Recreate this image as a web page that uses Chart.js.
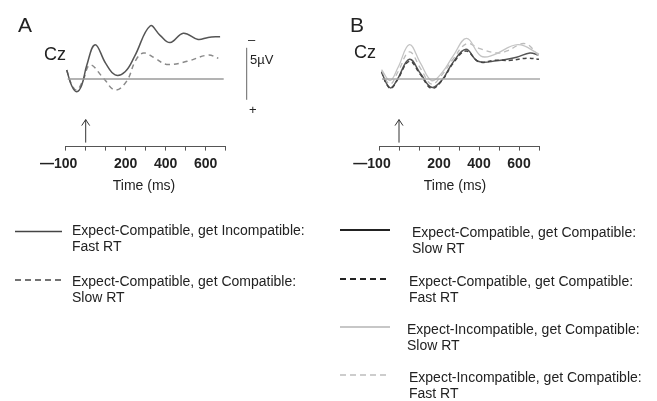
<!DOCTYPE html>
<html>
<head>
<meta charset="utf-8">
<script src="https://cdn.jsdelivr.net/npm/chart.js@4.4.0/dist/chart.umd.min.js"></script>
<style>
body{margin:0;background:#fff;width:657px;height:401px;position:relative;overflow:hidden;font-family:"Liberation Sans",Arial,sans-serif;color:#222}
.t{position:absolute;white-space:nowrap}
.lg{position:absolute;white-space:nowrap;font-size:14px;line-height:16px}
canvas{position:absolute;top:0}
svg{position:absolute;left:0;top:0}
</style>
</head>
<body>
<canvas id="ca" width="330" height="200" style="left:0;width:330px;height:200px"></canvas>
<canvas id="cb" width="327" height="200" style="left:330px;width:327px;height:200px"></canvas>

<div class="t" style="left:18px;top:14px;font-size:21px;line-height:21px">A</div>
<div class="t" style="left:350px;top:14px;font-size:21px;line-height:21px">B</div>
<div class="t" style="left:44px;top:44.5px;font-size:18px;line-height:18px">Cz</div>
<div class="t" style="left:354px;top:43px;font-size:18px;line-height:18px">Cz</div>
<div class="t" style="left:250px;top:53px;font-size:13px;line-height:13px">5µV</div>
<div class="t" style="left:248px;top:33px;font-size:13px;line-height:13px">–</div>
<div class="t" style="left:249px;top:103px;font-size:13px;line-height:13px">+</div>
<div class="t" style="left:104px;top:178px;width:80px;text-align:center;font-size:14px;line-height:14px">Time (ms)</div>
<div class="t" style="left:415px;top:178px;width:80px;text-align:center;font-size:14px;line-height:14px">Time (ms)</div>

<svg width="657" height="401">
  <line x1="15" y1="231.5" x2="62" y2="231.5" stroke="#444" stroke-width="1.5"/>
  <line x1="15" y1="280" x2="62" y2="280" stroke="#444" stroke-width="1.5" stroke-dasharray="6 4"/>
  <line x1="340" y1="230" x2="390" y2="230" stroke="#222" stroke-width="2"/>
  <line x1="340" y1="279" x2="390" y2="279" stroke="#222" stroke-width="2" stroke-dasharray="6 4"/>
  <line x1="340" y1="327" x2="390" y2="327" stroke="#b4b4b4" stroke-width="1.5"/>
  <line x1="340" y1="375" x2="390" y2="375" stroke="#bdbdbd" stroke-width="1.5" stroke-dasharray="6 4"/>
</svg>

<div class="lg" style="left:72px;top:222px">Expect-Compatible, get Incompatible:<br>Fast RT</div>
<div class="lg" style="left:72px;top:273px">Expect-Compatible, get Compatible:<br>Slow RT</div>
<div class="lg" style="left:412px;top:224px">Expect-Compatible, get Compatible:<br>Slow RT</div>
<div class="lg" style="left:409px;top:273px">Expect-Compatible, get Compatible:<br>Fast RT</div>
<div class="lg" style="left:407px;top:321px">Expect-Incompatible, get Compatible:<br>Slow RT</div>
<div class="lg" style="left:409px;top:369px">Expect-Incompatible, get Compatible:<br>Fast RT</div>

<script>
Chart.defaults.font.family = '"Liberation Sans", Arial, sans-serif';

// tick labels shown on the time axis
const tickLabels = {'-100': '\u2014100\u2003', '200': '200', '400': '400', '600': '600'};

// zero line
const baseT = [-90, 690];
const baseV = [0, 0];

// Panel A (µV, negative up)
const aFastT = [-95, -70, -45, -20, 5, 47, 100, 147, 197, 245, 322, 372, 422, 488, 562, 612, 672];
const aFastV = [-0.87, 0.65, 1.22, 0.6, -1.3, -3.3, -1.5, -0.4, -0.7, -2.2, -5.1, -4.2, -3.5, -4.4, -3.8, -4.0, -4.07];
const aSlowT = [-95, -70, -45, -15, 22, 88, 147, 205, 250, 290, 347, 405, 507, 612, 663];
const aSlowV = [-0.87, 0.55, 1.06, 0.2, -1.35, -0.1, 1.06, 0.2, -1.8, -2.5, -2.0, -1.4, -1.7, -2.3, -2.0];

// Panel B
const bCCslowT = [-87, -62, -40, -10, 52, 108, 163, 215, 270, 335, 395, 488, 588, 655, 697];
const bCCslowV = [-0.7, 0.45, 0.85, 0.1, -1.9, -0.5, 0.8, 0.1, -1.6, -2.85, -1.7, -1.75, -2.1, -2.5, -2.3];
const bCCfastT = [-87, -62, -40, -10, 52, 108, 163, 215, 270, 335, 400, 480, 560, 640, 700];
const bCCfastV = [-0.7, 0.5, 0.9, 0.15, -1.7, -0.4, 0.9, 0.15, -1.5, -2.7, -1.65, -1.8, -1.8, -2.0, -1.9];
const bICslowT = [-87, -45, -5, 52, 108, 163, 215, 270, 338, 410, 470, 595, 700];
const bICslowV = [-0.9, 0.15, -1.1, -3.3, -1.5, 0.15, -0.6, -2.2, -3.9, -2.2, -2.3, -3.3, -2.4];
const bICfastT = [-87, -45, -5, 52, 108, 163, 215, 270, 338, 400, 488, 540, 630, 700];
const bICfastV = [-0.8, 0.5, -0.7, -2.6, -1.0, 0.5, -0.4, -1.9, -3.4, -2.95, -2.5, -2.7, -3.4, -2.2];

function pts(t, v) { return t.map((x, i) => ({x: x, y: v[i]})); }

function trace(t, v, color, width, dash) {
  return {
    data: pts(t, v), borderColor: color, borderWidth: width, borderDash: dash || [],
    pointRadius: 0, fill: false, tension: 0.4, clip: false
  };
}

const extras = {
  id: 'extras',
  afterDraw(chart, args, opts) {
    const {ctx, chartArea, scales: {x, y}} = chart;
    const ax = x.getPixelForValue(0);
    const b = chartArea.bottom;
    ctx.save();
    ctx.strokeStyle = '#333';
    ctx.lineWidth = 1;
    ctx.beginPath();
    ctx.moveTo(ax, b - 4); ctx.lineTo(ax, b - 27);
    ctx.moveTo(ax - 4, b - 21); ctx.lineTo(ax, b - 27); ctx.lineTo(ax + 4, b - 21);
    ctx.stroke();
    if (opts.bar) {
      const bx = chartArea.right + 21;
      ctx.strokeStyle = '#666';
      ctx.beginPath();
      ctx.moveTo(bx, y.getPixelForValue(-3));
      ctx.lineTo(bx, y.getPixelForValue(2));
      ctx.stroke();
    }
    ctx.restore();
  }
};

function makeChart(id, datasets, padLeft, padRight, bar) {
  return new Chart(document.getElementById(id), {
    type: 'line',
    data: {datasets: datasets},
    plugins: [extras],
    options: {
      responsive: false,
      animation: false,
      layout: {padding: {left: padLeft, right: padRight, top: 16.6, bottom: 13.4}},
      plugins: {legend: {display: false}, tooltip: {enabled: false}, extras: {bar: bar}},
      scales: {
        x: {
          type: 'linear', min: -100, max: 700,
          afterFit(s) { s.height = 40; },
          grid: {drawOnChartArea: false, drawTicks: true, tickLength: 4, color: '#555'},
          border: {display: true, color: '#555', width: 1},
          ticks: {
            stepSize: 100, autoSkip: false, maxRotation: 0, padding: 5,
            color: '#222', font: {size: 14, weight: 'bold'},
            callback: v => tickLabels[String(v)] || ''
          }
        },
        y: {display: false, min: -6, max: 6.5, reverse: true}
      }
    }
  });
}

makeChart('ca', [
  trace(baseT, baseV, '#9a9a9a', 1.5),
  trace(aFastT, aFastV, '#555', 1.5),
  trace(aSlowT, aSlowV, '#8a8a8a', 1.5, [5, 4])
], 65.7, 104.3, true);

makeChart('cb', [
  trace([-85, 705], baseV, '#a8a8a8', 1.5),
  trace(bICslowT, bICslowV, '#c4c4c4', 1.3),
  trace(bICfastT, bICfastV, '#bcbcbc', 1.3, [5, 4]),
  trace(bCCfastT, bCCfastV, '#444', 1.5, [4, 3]),
  trace(bCCslowT, bCCslowV, '#555', 1.5)
], 49, 118, false);
</script>
</body>
</html>
